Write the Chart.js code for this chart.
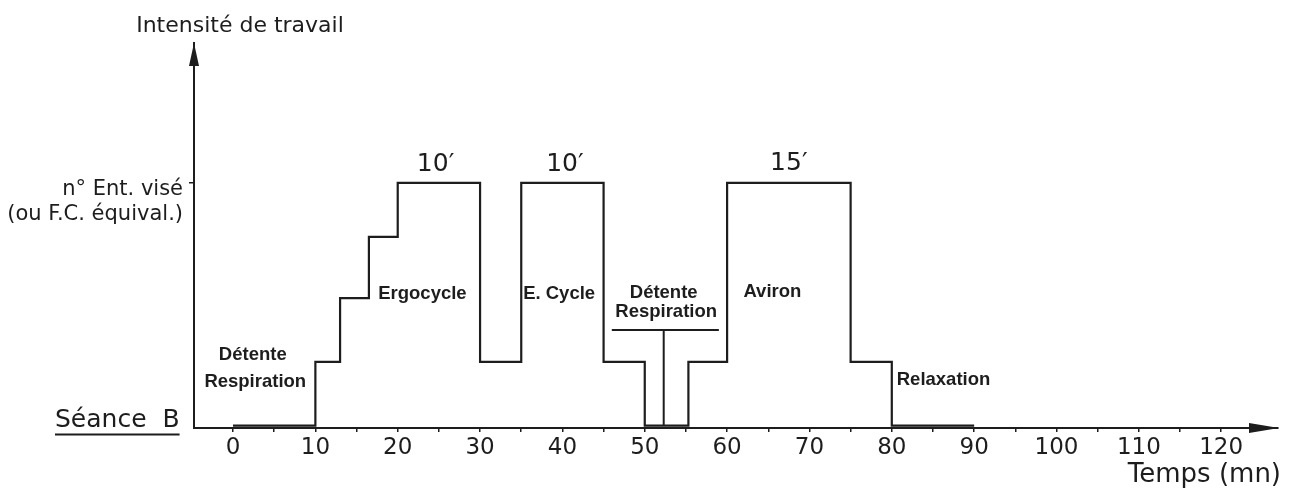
<!DOCTYPE html>
<html>
<head>
<meta charset="utf-8">
<script src="https://cdn.jsdelivr.net/npm/chart.js@4.4.1/dist/chart.umd.min.js"></script>
<style>
  html, body { margin: 0; padding: 0; background: #ffffff; }
  #wrap { width: 1295px; height: 496px; }
</style>
</head>
<body>
<div id="wrap"><canvas id="c" width="1295" height="496"></canvas></div>
<script>
// ---- data ----
// step profile: time (min) at which each level starts, and the level (% of target intensity)
const stepTimes  = [0, 10, 13, 16.5, 20, 30, 35, 45, 50, 55.3, 60, 75, 80, 90];
const stepLevels = [1, 27, 53, 78, 100, 27, 100, 27, 1, 27, 100, 27, 1, 1];
// "T" marker under the second "Détente Respiration"
const markerBarTimes   = [46, 59];
const markerBarLevels  = [40, 40];
const markerStemTimes  = [52.3, 52.3];
const markerStemLevels = [40, 1];
// axis ticks
const xTickValues = [0, 5, 10, 15, 20, 25, 30, 35, 40, 45, 50, 55, 60, 65, 70, 75, 80, 85, 90, 95, 100, 105, 110, 115, 120];
const xTickLabels = ['0', '', '10', '', '20', '', '30', '', '40', '', '50', '', '60', '', '70', '', '80', '', '90', '', '100', '', '110', '', '120'];
const yTickValues = [87.3, 97.1, 100];
const yTickLabels = ['(ou F.C. équival.)', 'n° Ent. visé', ''];
// annotations: text, time, level
const notes = [
  { text: '10′', t: 24.6, v: 107.5, kind: 'big' },
  { text: '10′', t: 40.3, v: 107.5, kind: 'big' },
  { text: '15′', t: 67.5, v: 108, kind: 'big' },
  { text: 'Détente', t: 2.4, v: 29.8, kind: 'label' },
  { text: 'Respiration', t: 2.7, v: 18.8, kind: 'label' },
  { text: 'Ergocycle', t: 23.0, v: 54.7, kind: 'label' },
  { text: 'E. Cycle', t: 39.6, v: 54.7, kind: 'label' },
  { text: 'Détente', t: 52.3, v: 55.3, kind: 'label' },
  { text: 'Respiration', t: 52.6, v: 47.5, kind: 'label' },
  { text: 'Aviron', t: 65.5, v: 55.5, kind: 'label' },
  { text: 'Relaxation', t: 80.6, v: 19.6, kind: 'labelLeft' }
];

const INK = '#1d1d1d';
const LIGHT_FONT = '"DejaVu Sans", sans-serif';
const BOLD_FONT = '"Liberation Sans", Arial, sans-serif';

const toPts = (xs, ys) => xs.map((x, i) => ({ x: x, y: ys[i] }));

const decor = {
  id: 'decor',
  afterDraw(chart) {
    const { ctx, scales, chartArea } = chart;
    const xs = scales.x, ys = scales.y;
    ctx.save();
    ctx.fillStyle = INK;
    // arrow heads
    const ax = chartArea.left, ay = chartArea.top;
    ctx.beginPath();
    ctx.moveTo(ax, ay);
    ctx.lineTo(ax - 5, ay + 23);
    ctx.lineTo(ax + 5, ay + 23);
    ctx.closePath();
    ctx.fill();
    const bx = chartArea.right + 1, by = chartArea.bottom;
    ctx.beginPath();
    ctx.moveTo(bx, by);
    ctx.lineTo(bx - 30, by - 5);
    ctx.lineTo(bx - 30, by + 5);
    ctx.closePath();
    ctx.fill();

    // annotations
    notes.forEach(n => {
      const px = xs.getPixelForValue(n.t), py = ys.getPixelForValue(n.v);
      if (n.kind === 'big') {
        ctx.font = '25px ' + LIGHT_FONT;
        ctx.textAlign = 'center';
      } else if (n.kind === 'labelLeft') {
        ctx.font = 'bold 18.5px ' + BOLD_FONT;
        ctx.textAlign = 'left';
      } else {
        ctx.font = 'bold 18.5px ' + BOLD_FONT;
        ctx.textAlign = 'center';
      }
      ctx.textBaseline = 'middle';
      ctx.fillText(n.text, px, py);
    });

    // titles
    ctx.font = '22px ' + LIGHT_FONT;
    ctx.textAlign = 'center';
    ctx.textBaseline = 'alphabetic';
    ctx.fillText('Intensité de travail', 240, 32);

    ctx.font = '26px ' + LIGHT_FONT;
    ctx.textAlign = 'right';
    ctx.fillText('Temps (mn)', 1281, 482);

    ctx.font = '25px ' + LIGHT_FONT;
    ctx.textAlign = 'left';
    ctx.fillText('Séance  B', 55, 427);
    const w = ctx.measureText('Séance  B').width;
    ctx.strokeStyle = INK;
    ctx.lineWidth = 2;
    ctx.beginPath();
    ctx.moveTo(55, 434.5);
    ctx.lineTo(55 + w, 434.5);
    ctx.stroke();
    ctx.restore();
  }
};

new Chart(document.getElementById('c'), {
  type: 'line',
  data: {
    datasets: [
      { data: toPts(stepTimes, stepLevels), stepped: 'before', borderColor: INK, borderWidth: 2.2, pointRadius: 0, fill: false },
      { data: toPts(markerBarTimes, markerBarLevels), borderColor: INK, borderWidth: 2, pointRadius: 0, fill: false },
      { data: toPts(markerStemTimes, markerStemLevels), borderColor: INK, borderWidth: 2, pointRadius: 0, fill: false }
    ]
  },
  options: {
    responsive: false,
    animation: false,
    devicePixelRatio: 1,
    layout: { padding: { left: 0, top: 43, right: 17, bottom: 0 } },
    plugins: { legend: { display: false }, tooltip: { enabled: false } },
    scales: {
      x: {
        type: 'linear',
        min: -4.74,
        max: 126.9,
        afterBuildTicks: s => { s.ticks = xTickValues.map(v => ({ value: v })); },
        afterFit: s => { s.height = 68; },
        ticks: {
          autoSkip: false, maxRotation: 0, padding: 2,
          color: INK,
          font: { family: LIGHT_FONT, size: 23 },
          callback: (v, i) => xTickLabels[i]
        },
        grid: { drawOnChartArea: false, drawTicks: true, tickLength: 4, color: INK, lineWidth: 1.5 },
        border: { display: true, color: INK, width: 2 }
      },
      y: {
        type: 'linear',
        min: 0,
        max: 157.1,
        afterBuildTicks: s => { s.ticks = yTickValues.map(v => ({ value: v })); },
        afterFit: s => { s.width = 194; },
        ticks: {
          autoSkip: false, padding: 6,
          color: INK,
          font: { family: LIGHT_FONT, size: 21 },
          callback: (v, i) => yTickLabels[i]
        },
        grid: {
          drawOnChartArea: false, drawTicks: true, tickLength: 5, lineWidth: 1.5,
          color: ctx => (ctx.tick && ctx.tick.value === 100) ? INK : 'rgba(0,0,0,0)'
        },
        border: { display: true, color: INK, width: 2 }
      }
    }
  },
  plugins: [decor]
});
</script>
</body>
</html>
